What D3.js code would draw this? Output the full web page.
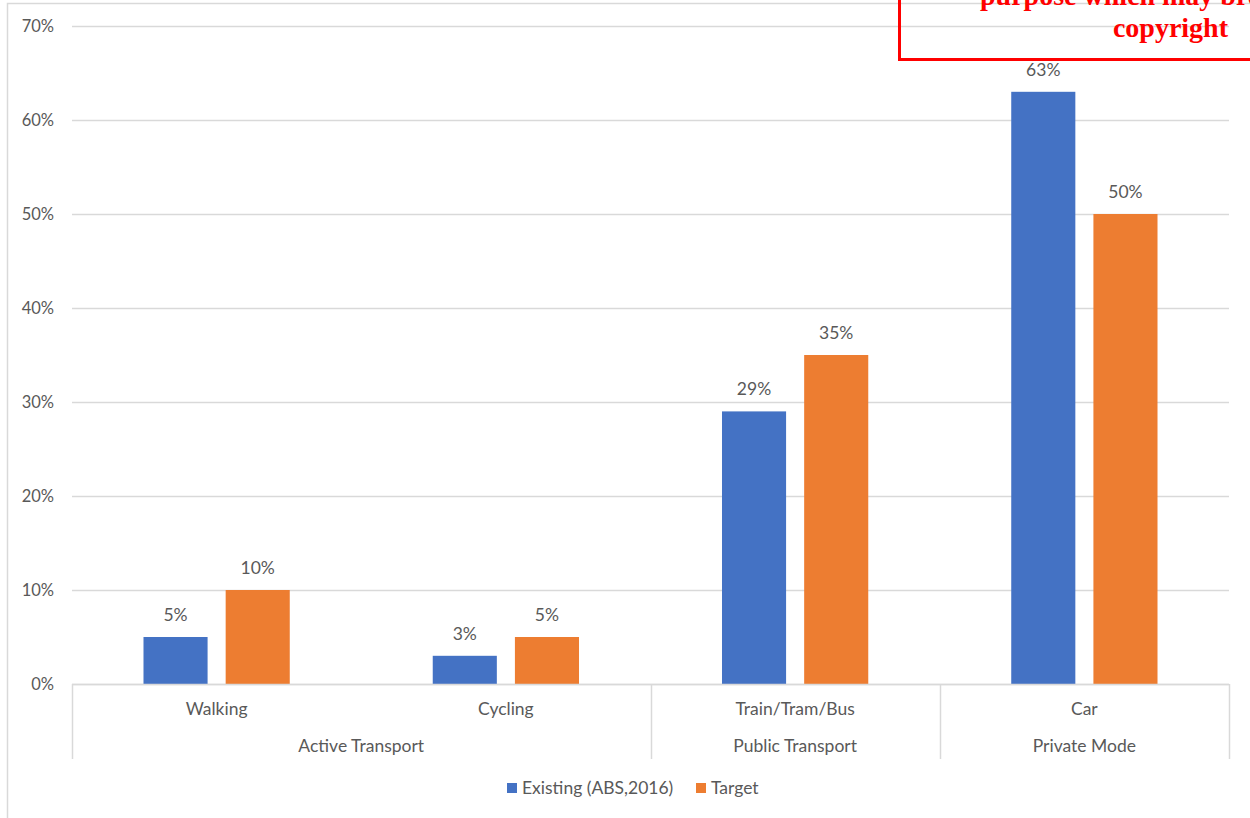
<!DOCTYPE html>
<html>
<head>
<meta charset="utf-8">
<script src="https://cdn.jsdelivr.net/npm/d3@7"></script>
<style>
  body { margin: 0; background: #fff; }
  svg { display: block; font-family: Lato, "Open Sans", sans-serif; }
</style>
</head>
<body>
<div id="main-chart"></div>
<script>
const categories = ["Walking", "Cycling", "Train/Tram/Bus", "Car"];
const groups = ["Active Transport", "Active Transport", "Public Transport", "Private Mode"];
const seriesNames = ["Existing (ABS,2016)", "Target"];
const existing = [5, 3, 29, 63];
const target = [10, 5, 35, 50];
const yTicks = [0, 10, 20, 30, 40, 50, 60, 70];

const width = 1250;
const height = 818;
const margin = { top: 26, bottom: 134, left: 72, right: 21 };
const colors = ["#4472c4", "#ed7d31"];
const textColor = "#595959";
const lineColor = "#d9d9d9";
const fontSize = "17.5px";

const svg = d3
  .select("#main-chart")
  .append("svg")
  .attr("width", width)
  .attr("height", height);

// outer chart border (only left/top visible in picture)
svg.append("rect")
  .attr("x", 7.5).attr("y", 3.5)
  .attr("width", 1400).attr("height", 1000)
  .attr("fill", "none")
  .attr("stroke", lineColor)
  .attr("stroke-width", 1.5);

const x = d3
  .scaleBand()
  .domain(categories)
  .range([margin.left, width - margin.right])
  .padding(0);

const x1 = d3
  .scaleBand()
  .domain(seriesNames)
  .range([0, x.bandwidth()])
  .paddingInner(0.22)
  .paddingOuter(0.87);

const y = d3
  .scaleLinear()
  .domain([0, 70])
  .range([height - margin.bottom, margin.top]);

// gridlines
svg.append("g")
  .selectAll("line")
  .data(yTicks)
  .join("line")
  .attr("x1", margin.left)
  .attr("x2", width - margin.right)
  .attr("y1", (d) => Math.round(y(d)) + 0.5)
  .attr("y2", (d) => Math.round(y(d)) + 0.5)
  .attr("stroke", lineColor)
  .attr("stroke-width", 1.5);

// y axis labels
const yAxis = svg.append("g")
  .attr("transform", `translate(${margin.left - 18}, 0)`)
  .call(d3.axisLeft(y).tickValues(yTicks).tickFormat((d) => d + "%").tickSize(0).tickPadding(0));
yAxis.select(".domain").remove();
yAxis.selectAll("text")
  .attr("fill", textColor)
  .attr("font-size", "16.5px")
  .attr("font-family", "Lato, sans-serif");

// bars
const rows = categories.map((c, i) => ({ cat: c, values: [existing[i], target[i]] }));

const barG = svg.append("g")
  .selectAll("g")
  .data(rows)
  .join("g")
  .attr("transform", (d) => `translate(${x(d.cat)}, 0)`);

barG.selectAll("rect")
  .data((d) => d.values.map((v, j) => ({ s: seriesNames[j], v: v, j: j })))
  .join("rect")
  .attr("x", (d) => x1(d.s))
  .attr("y", (d) => y(d.v))
  .attr("width", x1.bandwidth())
  .attr("height", (d) => y(0) - y(d.v))
  .attr("fill", (d) => colors[d.j]);

barG.selectAll("text")
  .data((d) => d.values.map((v, j) => ({ s: seriesNames[j], v: v, j: j })))
  .join("text")
  .attr("x", (d) => x1(d.s) + x1.bandwidth() / 2)
  .attr("y", (d) => y(d.v) - 16)
  .attr("text-anchor", "middle")
  .attr("fill", textColor)
  .attr("font-size", fontSize)
  .text((d) => d.v + "%");

// category axis
const base = y(0);
const axisBottom = base + 75;
svg.append("line")
  .attr("x1", margin.left).attr("x2", width - margin.right)
  .attr("y1", base + 0.5).attr("y2", base + 0.5)
  .attr("stroke", lineColor).attr("stroke-width", 1.5);

svg.append("g")
  .selectAll("text")
  .data(categories)
  .join("text")
  .attr("x", (d) => x(d) + x.bandwidth() / 2)
  .attr("y", base + 31)
  .attr("text-anchor", "middle")
  .attr("fill", textColor)
  .attr("font-size", fontSize)
  .text((d) => d);

// group spans
const groupNames = Array.from(new Set(groups));
const spans = groupNames.map((g) => {
  const cats = categories.filter((c, i) => groups[i] === g);
  return { name: g, x0: x(cats[0]), x1: x(cats[cats.length - 1]) + x.bandwidth() };
});

const bounds = [spans[0].x0].concat(spans.map((s) => s.x1));
svg.append("g")
  .selectAll("line")
  .data(bounds)
  .join("line")
  .attr("x1", (d) => Math.round(d) + 0.5)
  .attr("x2", (d) => Math.round(d) + 0.5)
  .attr("y1", base)
  .attr("y2", axisBottom)
  .attr("stroke", lineColor)
  .attr("stroke-width", 1.5);

svg.append("g")
  .selectAll("text")
  .data(spans)
  .join("text")
  .attr("x", (d) => (d.x0 + d.x1) / 2)
  .attr("y", base + 68)
  .attr("text-anchor", "middle")
  .attr("fill", textColor)
  .attr("font-size", fontSize)
  .text((d) => d.name);

// legend
const legend = svg.append("g").attr("transform", "translate(507, 783)");
const legendX = [0, 189];
const li = legend.selectAll("g")
  .data(seriesNames)
  .join("g")
  .attr("transform", (d, i) => `translate(${legendX[i]}, 0)`);
li.append("rect")
  .attr("width", 10).attr("height", 10)
  .attr("fill", (d, i) => colors[i]);
li.append("text")
  .attr("x", 15).attr("y", 11)
  .attr("fill", textColor)
  .attr("font-size", fontSize)
  .text((d) => d);

// red notice box over top-right corner
svg.append("rect")
  .attr("x", 899.5).attr("y", -60)
  .attr("width", 400).attr("height", 119.5)
  .attr("fill", "none")
  .attr("stroke", "#ff0000")
  .attr("stroke-width", 3);

svg.append("text")
  .attr("x", 980).attr("y", 5)
  .attr("fill", "#ff0000")
  .attr("font-family", "'Liberation Serif', serif")
  .attr("font-weight", "bold")
  .attr("font-size", "28px")
  .text("purpose which may breach");

svg.append("text")
  .attr("x", 1228).attr("y", 37)
  .attr("text-anchor", "end")
  .attr("fill", "#ff0000")
  .attr("font-family", "'Liberation Serif', serif")
  .attr("font-weight", "bold")
  .attr("font-size", "28px")
  .text("copyright");
</script>
</body>
</html>
